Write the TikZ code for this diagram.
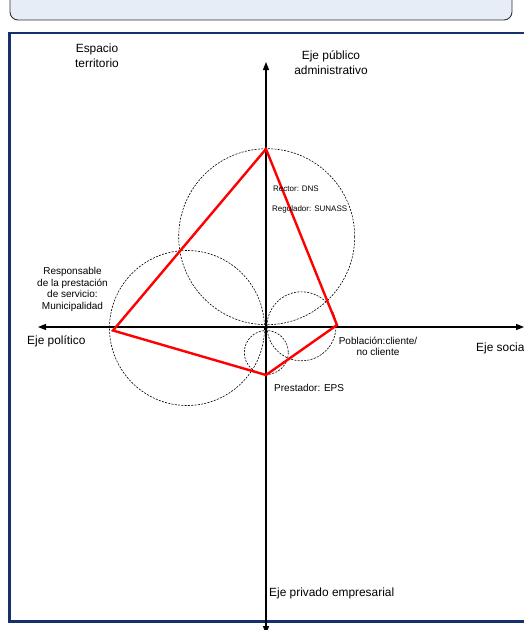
\documentclass[tikz,border=0pt]{standalone}
\usepackage{fontspec}
\setmainfont{Liberation Sans}
\usetikzlibrary{arrows.meta}
\definecolor{framenavy}{HTML}{15306B}
\definecolor{panelfill}{HTML}{E7EDF7}
\begin{document}
\begin{tikzpicture}[x=1pt,y=-1pt,
  smalltext/.style={inner sep=0pt,font=\fontsize{8}{9.5}\selectfont},
  midtext/.style={inner sep=0pt,font=\fontsize{10}{11.7}\selectfont,align=center},
  bigtext/.style={inner sep=0pt,font=\fontsize{11.9}{15}\selectfont,align=center},
  axisline/.style={line width=1.2pt,{Triangle[length=8pt,width=6pt]}-{Triangle[length=8pt,width=6pt]}},
  orbit/.style={draw,line width=0.6pt,dash pattern=on 2pt off 1.3pt},
  triad/.style={draw=red,line width=2.4pt,line join=miter}]
\useasboundingbox (0,0) rectangle (523,630);

% header panel and frame
\filldraw[fill=panelfill,draw=black!80,line width=0.9pt,rounded corners=8pt]
  (10,-30) rectangle (512,20);
\draw[framenavy,line width=2.2pt] (9.5,33) rectangle (545,621.5);

% dashed circles
\draw[orbit] (266.7,236.7) circle[radius=88];
\draw[orbit] (187,328) circle[radius=77.5];
\draw[orbit] (301.5,326.3) circle[radius=34.5];
\draw[orbit] (266.3,352.5) circle[radius=22];

% axes
\coordinate (axtop) at (266,62);
\coordinate (axbottom) at (266,634);
\coordinate (axleft) at (38,327);
\coordinate (axright) at (524,327);
\draw[axisline] (axbottom) -- (axtop);
\draw[axisline] (axleft) -- (axright);

% actors
\coordinate (vT) at (266,149);
\coordinate (vR) at (337,325);
\coordinate (vB) at (266,375);
\coordinate (vL) at (113,330.5);
\draw[triad] (vT) -- (vR) -- (vB) -- (vL) -- cycle;

% labels
\node[bigtext] (espacio) at (97,55.5) {Espacio\\territorio};
\node[bigtext] (publico) at (331,62.5) {Eje público\\administrativo};
\node[smalltext,anchor=west] (rector) at (273,189) {Rector: DNS};
\node[smalltext,anchor=west] (regulador) at (272,209) {Regulador: SUNASS};
\node[midtext] (responsable) at (72.5,289.5) {Responsable\\de la prestación\\de servicio:\\Municipalidad};
\node[bigtext,anchor=west] (politico) at (27,341) {Eje político};
\node[midtext] (poblacion) at (378,346.5) {Población:cliente/\\no cliente};
\node[bigtext,anchor=west] (social) at (476,348) {Eje social};
\node[midtext,anchor=west] (prestador) at (274,388) {Prestador: EPS};
\node[bigtext,anchor=west] (privado) at (269,593) {Eje privado empresarial};
\end{tikzpicture}
\end{document}
